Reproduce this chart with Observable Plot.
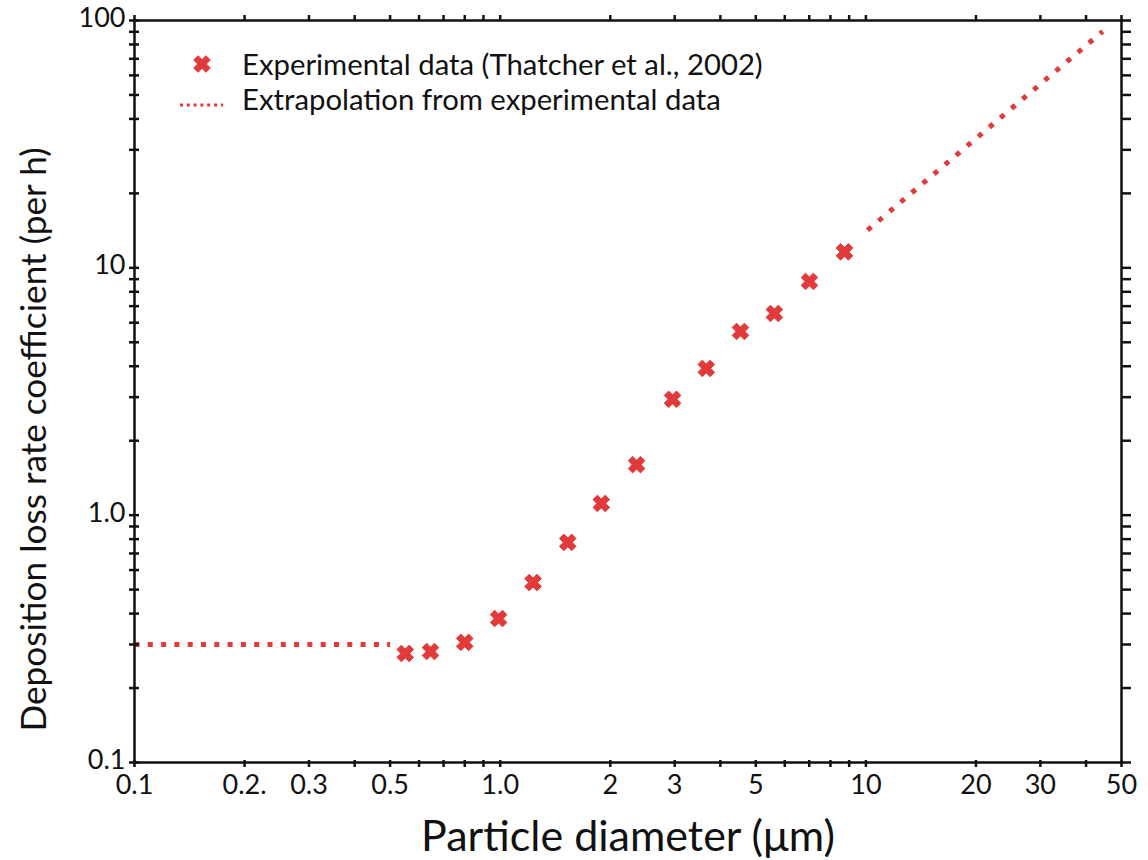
<!DOCTYPE html>
<html>
<head>
<meta charset="utf-8">
<script src="https://cdn.jsdelivr.net/npm/d3@7"></script>
<script src="https://cdn.jsdelivr.net/npm/@observablehq/plot@0.6"></script>
<style>
  body { margin: 0; background: #fff; font-family: Lato, sans-serif; }
  #wrap { position: relative; width: 1148px; height: 860px; }
  #legend { position: absolute; left: 0; top: 0; pointer-events: none; }
</style>
</head>
<body>
<div id="wrap"></div>
<script>
// ---- data ----
const diameters = [0.55, 0.645, 0.80, 0.99, 1.23, 1.53, 1.89, 2.36, 2.96, 3.66, 4.54, 5.62, 7.01, 8.74];
const rates     = [0.276, 0.281, 0.306, 0.382, 0.534, 0.776, 1.115, 1.60, 2.94, 3.92, 5.53, 6.54, 8.81, 11.6];

const lowExtrapD    = [0.1, 0.5];
const lowExtrapRate = [0.3, 0.3];
const highExtrapD    = [10.1, 44.4];
const highExtrapRate = [14.2, 90.3];

const xTicks = [0.1, 0.2, 0.3, 0.4, 0.5, 0.6, 0.7, 0.8, 0.9, 1, 2, 3, 4, 5, 6, 7, 8, 9, 10, 20, 30, 40, 50];
const xLabelValues = [0.1, 0.2, 0.3, 0.5, 1, 2, 3, 5, 10, 20, 30, 50];
const xLabelTexts  = ["0.1", "0.2.", "0.3", "0.5", "1.0", "2", "3", "5", "10", "20", "30", "50"];

const yTicks = [0.1, 0.2, 0.3, 0.4, 0.5, 0.6, 0.7, 0.8, 0.9, 1, 2, 3, 4, 5, 6, 7, 8, 9, 10, 20, 30, 40, 50, 60, 70, 80, 90, 100];
const yLabelValues = [0.1, 1, 10, 100];
const yLabelTexts  = ["0.1", "1.0", "10", "100"];

const legendLabels = ["Experimental data (Thatcher et al., 2002)", "Extrapolation from experimental data"];
const xTitle = "Particle diameter (\u03bcm)";
const yTitle = "Deposition loss rate coefficient (per h)";

// ---- build tables ----
const points = diameters.map((d, i) => ({d, r: rates[i]}));
const lowLine = lowExtrapD.map((d, i) => ({d, r: lowExtrapRate[i]}));
const highLine = highExtrapD.map((d, i) => ({d, r: highExtrapRate[i]}));
const xLabels = xLabelValues.map((v, i) => ({v, t: xLabelTexts[i]}));
const yLabels = yLabelValues.map((v, i) => ({v, t: yLabelTexts[i]}));

const RED = "#e23a3a";
const INK = "#111";

// bold "x" marker
const boldX = {
  draw(ctx, size) {
    const e = Math.sqrt(size / Math.PI);
    const t = e * 0.75;
    const o = t / (2 * Math.SQRT2);
    const s = e - o;
    ctx.moveTo(-s + o, -s - o); ctx.lineTo(s + o, s - o); ctx.lineTo(s - o, s + o); ctx.lineTo(-s - o, -s + o); ctx.closePath();
    ctx.moveTo(s + o, -s + o); ctx.lineTo(-s + o, s + o); ctx.lineTo(-s - o, s - o); ctx.lineTo(s - o, -s - o); ctx.closePath();
  }
};

const chart = Plot.plot({
  width: 1148,
  height: 860,
  marginLeft: 134,
  marginRight: 27,
  marginTop: 20,
  marginBottom: 98,
  style: {fontFamily: "Lato, sans-serif", fontSize: "27px", color: INK, background: "#fff", overflow: "visible"},
  x: {type: "log", domain: [0.1, 50]},
  y: {type: "log", domain: [0.1, 100]},
  marks: [
    Plot.line(lowLine, {x: "d", y: "r", stroke: RED, strokeWidth: 5, strokeLinecap: "butt", strokeDasharray: "5 8.3"}),
    Plot.line(highLine, {x: "d", y: "r", stroke: RED, strokeWidth: 5, strokeLinecap: "butt", strokeDasharray: "5 9.5"}),
    Plot.dot(points, {x: "d", y: "r", symbol: boldX, r: 8.3, fill: RED, stroke: RED, strokeWidth: 1, strokeLinejoin: "round"}),
    Plot.frame({stroke: INK, strokeWidth: 2.5}),
    // tick marks
    Plot.axisX({ticks: xTicks, tickSize: 7, dy: -2, strokeWidth: 2.5, fill: "none", label: null}),
    Plot.axisX({anchor: "top", ticks: xTicks, tickSize: 6, strokeWidth: 2.5, fill: "none", label: null}),
    Plot.axisY({ticks: yTicks, tickSize: 10, dx: 5, strokeWidth: 2.5, fill: "none", label: null}),
    Plot.axisY({anchor: "right", ticks: yTicks, tickSize: 9, strokeWidth: 2.5, fill: "none", label: null}),
    // tick labels
    Plot.text(xLabels, {x: "v", text: "t", frameAnchor: "bottom", lineAnchor: "top", textAnchor: "middle", dy: 12, fontSize: 27, fill: INK}),
    Plot.text(yLabels, {y: "v", text: "t", frameAnchor: "left", textAnchor: "end", lineAnchor: "middle", dx: -9, dy: -2, fontSize: 27, fill: INK}),
    // axis titles
    Plot.text([xTitle], {text: d => d, frameAnchor: "bottom", textAnchor: "middle", lineAnchor: "middle", dy: 75, fontSize: 43, fill: INK}),
    Plot.text([yTitle], {text: d => d, frameAnchor: "left", textAnchor: "middle", lineAnchor: "middle", rotate: -90, dx: -100, dy: 48, fontSize: 35.2, fill: INK})
  ]
});

const wrap = document.getElementById("wrap");
wrap.appendChild(chart);

// legend overlay
const leg = d3.select(wrap).append("svg")
  .attr("id", "legend").attr("width", 1148).attr("height", 140)
  .style("font-family", "Lato, sans-serif");

leg.append("path")
  .attr("transform", "translate(202,64)")
  .attr("d", d3.symbol(boldX, 8.3 * 8.3 * Math.PI)())
  .attr("fill", RED).attr("stroke", RED).attr("stroke-width", 1).attr("stroke-linejoin", "round");

leg.append("line")
  .attr("x1", 180).attr("x2", 223).attr("y1", 105).attr("y2", 105)
  .attr("stroke", RED).attr("stroke-width", 3).attr("stroke-dasharray", "3 3.8");

leg.selectAll("text.lg").data(legendLabels).join("text")
  .attr("class", "lg")
  .attr("x", 242)
  .attr("y", (d, i) => i === 0 ? 68 : 103)
  .attr("dominant-baseline", "middle")
  .attr("font-size", 29.3)
  .attr("fill", INK)
  .text(d => d);
</script>
</body>
</html>
